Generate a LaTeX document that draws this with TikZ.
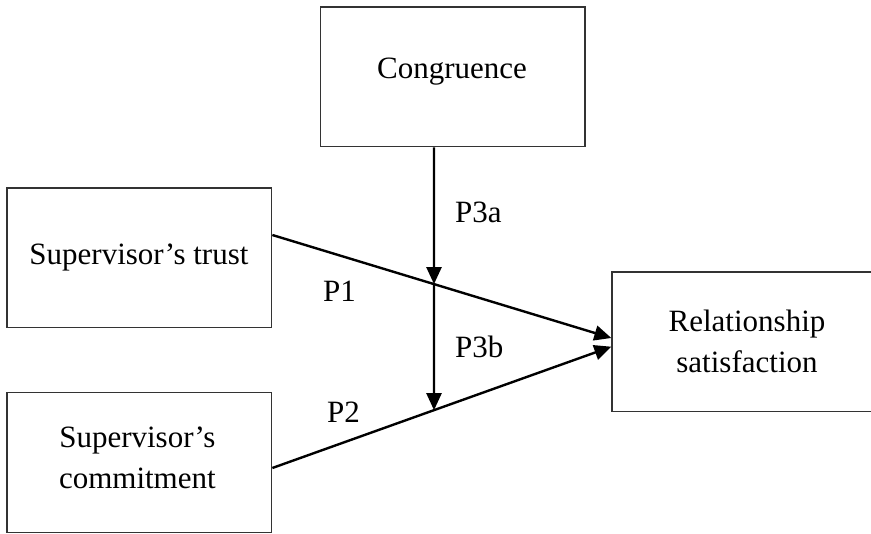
\documentclass[tikz,border=0pt]{standalone}
\usepackage{fontspec}
\setmainfont{Liberation Serif}
\usetikzlibrary{arrows.meta,calc}
\begin{document}
\begin{tikzpicture}[x=1pt,y=-1pt,
  box/.style={draw=black!80, line width=1.3pt, rectangle, inner sep=0pt},
  lbl/.style={font=\fontsize{31}{41}\selectfont, inner sep=0pt, align=center},
  conn/.style={line width=2.4pt, -{Triangle[length=17pt,width=15pt]}}]
\useasboundingbox (0,0) rectangle (871,534);
% boxes
\node[box, minimum width=264.3pt, minimum height=139.7pt] (cong) at (452.85,76.85) {};
\node[box, minimum width=264.7pt, minimum height=139.7pt] (trust) at (139.35,257.85) {};
\node[box, minimum width=264.7pt, minimum height=140pt] (commit) at (139.35,462.7) {};
\node[box, minimum width=264pt, minimum height=139.7pt] (rel) at (744,341.85) {};
% texts
\node[lbl, anchor=base] (congt) at (452,79) {Congruence};
\node[lbl, anchor=base] (trustt) at (139,265) {Supervisor’s trust};
\node[lbl] (committ) at ($(commit.center)+(-2,-5)$) {Supervisor’s\\commitment};
\node[lbl] (relt) at ($(rel.center)+(3,0)$) {Relationship\\satisfaction};
% connector end points
\coordinate (t1) at ($(trust.east)+(0,-22.85)$);
\coordinate (r1) at ($(rel.west)+(0,-3.85)$);
\coordinate (m1) at ($(commit.east)+(0,5.3)$);
\coordinate (r2) at ($(rel.west)+(0,4.85)$);
\coordinate (c0) at ($(cong.south)+(-18.85,0)$);
\coordinate (c9) at ($(c0)+(0,400)$);
\coordinate (x1) at (intersection of t1--r1 and c0--c9);
\coordinate (x2) at (intersection of m1--r2 and c0--c9);
% connectors
\draw[conn] (t1) -- (r1);
\draw[conn] (m1) -- (r2);
\draw[conn] (c0) -- (x1);
\draw[conn] (x1) -- (x2);
% path labels
\node[lbl, anchor=base west] (p3a) at (455,223) {P3a};
\node[lbl, anchor=base west] (p3b) at (455,358) {P3b};
\node[lbl, anchor=base west] (p1) at (323,302) {P1};
\node[lbl, anchor=base west] (p2) at (327,423) {P2};
\end{tikzpicture}
\end{document}
